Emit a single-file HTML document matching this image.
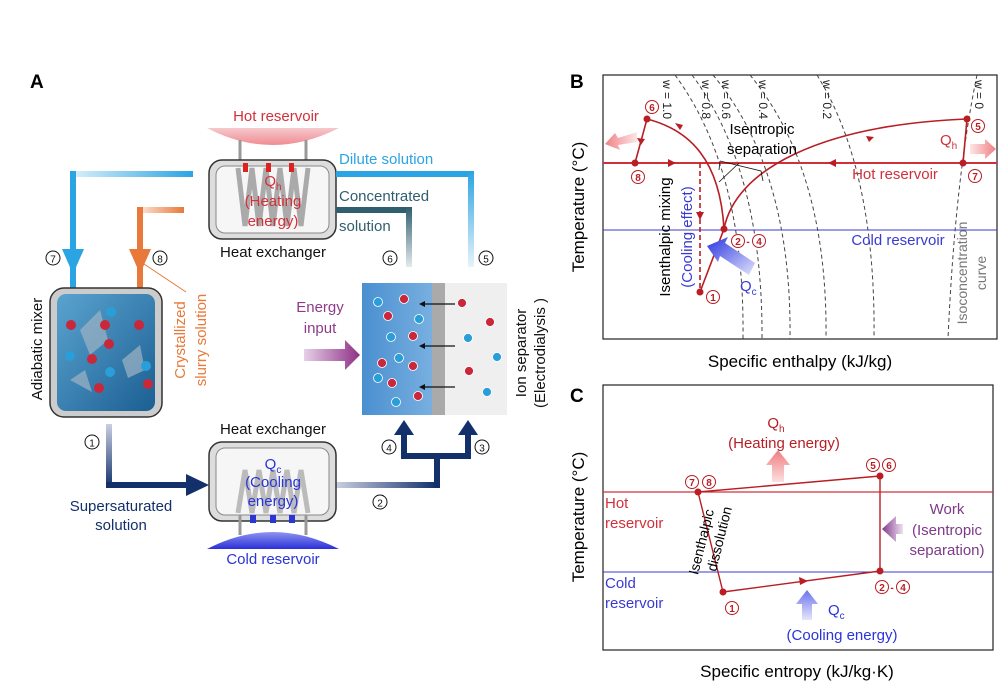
<!DOCTYPE html>
<html><head><meta charset="utf-8"><style>
html,body{margin:0;padding:0;background:#fff;}
svg{display:block;font-family:"Liberation Sans",sans-serif;}
</style></head><body>
<svg width="1000" height="700" viewBox="0 0 1000 700" xmlns="http://www.w3.org/2000/svg">
<defs>
<linearGradient id="pinkdome" x1="0" y1="0" x2="0" y2="1"><stop offset="0" stop-color="#f6c9cc"/><stop offset="1" stop-color="#f08b92"/></linearGradient>
<linearGradient id="bluedome" x1="0" y1="1" x2="0" y2="0"><stop offset="0" stop-color="#2a2fd8"/><stop offset="1" stop-color="#8f95f0"/></linearGradient>
<linearGradient id="water" x1="0" y1="0" x2="1" y2="1"><stop offset="0" stop-color="#5aa3cf"/><stop offset="1" stop-color="#1c5f93"/></linearGradient>
<linearGradient id="sepblue" x1="0" y1="0" x2="1" y2="0"><stop offset="0" stop-color="#4a8fd0"/><stop offset="1" stop-color="#79b0e0"/></linearGradient>
<linearGradient id="purp" x1="0" y1="0" x2="1" y2="0"><stop offset="0" stop-color="#e6d0e8"/><stop offset="1" stop-color="#8e2f86"/></linearGradient>
<linearGradient id="purpL" x1="1" y1="0" x2="0" y2="0"><stop offset="0" stop-color="#f0e0f0"/><stop offset="1" stop-color="#7d3a88"/></linearGradient>
<linearGradient id="fadeL" x1="0" y1="0" x2="1" y2="0"><stop offset="0" stop-color="#fff" stop-opacity="0"/><stop offset="1" stop-color="#fff"/></linearGradient>
<linearGradient id="pinkUp" x1="0" y1="1" x2="0" y2="0"><stop offset="0" stop-color="#fbe0e0"/><stop offset="1" stop-color="#f07c80"/></linearGradient>
<linearGradient id="blueUp" x1="0" y1="1" x2="0" y2="0"><stop offset="0" stop-color="#e4e6fb"/><stop offset="1" stop-color="#6b73ec"/></linearGradient>
<linearGradient id="blueDiag" x1="1" y1="1" x2="0" y2="0"><stop offset="0" stop-color="#e0e3fb"/><stop offset="1" stop-color="#2a34e0"/></linearGradient>
<linearGradient id="pinkL" x1="1" y1="0" x2="0" y2="0"><stop offset="0" stop-color="#fde6e6"/><stop offset="1" stop-color="#f08085"/></linearGradient>
<linearGradient id="pinkR" x1="0" y1="0" x2="1" y2="0"><stop offset="0" stop-color="#fde6e6"/><stop offset="1" stop-color="#f08085"/></linearGradient>
<linearGradient id="navyFade" x1="0" y1="0" x2="0" y2="1"><stop offset="0" stop-color="#c8cfe0"/><stop offset="1" stop-color="#13306a"/></linearGradient>
<linearGradient id="navyFadeH" x1="0" y1="0" x2="1" y2="0"><stop offset="0" stop-color="#c8cfe0"/><stop offset="1" stop-color="#13306a"/></linearGradient>
<linearGradient id="lbFade" x1="0" y1="0" x2="0" y2="1"><stop offset="0" stop-color="#2aa4e2"/><stop offset="1" stop-color="#e6f3fb"/></linearGradient>
<linearGradient id="dkFade" x1="0" y1="0" x2="0" y2="1"><stop offset="0" stop-color="#2f5e6e"/><stop offset="1" stop-color="#e3eaed"/></linearGradient>
<linearGradient id="lbFadeH" x1="1" y1="0" x2="0" y2="0"><stop offset="0" stop-color="#2aa4e2"/><stop offset="1" stop-color="#d8eefa"/></linearGradient>
<linearGradient id="orFadeH" x1="1" y1="0" x2="0" y2="0"><stop offset="0" stop-color="#e8793a"/><stop offset="1" stop-color="#fbe3d5"/></linearGradient>
</defs>

<!-- ========== Panel A ========== -->
<text x="30" y="88" font-size="19" font-weight="bold">A</text>

<!-- hot reservoir -->
<text x="276" y="121" font-size="15" fill="#d3303a" text-anchor="middle">Hot reservoir</text>
<path d="M207 128 Q272 162 339 128 Z" fill="url(#pinkdome)"/>
<!-- pipes from hot reservoir -->
<g stroke="#999" stroke-width="3"><line x1="240" y1="140" x2="240" y2="170"/><line x1="306" y1="140" x2="306" y2="170"/></g>

<!-- top heat exchanger -->
<rect x="209" y="160" width="127" height="79" rx="13" fill="#ddd" stroke="#333" stroke-width="1.5"/>
<rect x="216" y="166" width="113" height="67" rx="9" fill="#f6f6f6" stroke="#888" stroke-width="1"/>
<path d="M238 168 L245 226 L252 168 L259 226 L266 168 L273 226 L280 168 L287 226 L294 168 L301 226 L308 168" fill="none" stroke="#aaa" stroke-width="5"/>
<g fill="#d22"><rect x="243" y="163" width="5" height="9"/><rect x="266" y="163" width="5" height="9"/><rect x="289" y="163" width="5" height="9"/></g>
<text x="273" y="186" font-size="15" fill="#d3303a" text-anchor="middle">Q<tspan font-size="10" dy="4">h</tspan></text>
<text x="273" y="206" font-size="15" fill="#d3303a" text-anchor="middle">(Heating</text>
<text x="273" y="226" font-size="15" fill="#d3303a" text-anchor="middle">energy)</text>
<text x="273" y="257" font-size="15" fill="#111" text-anchor="middle">Heat exchanger</text>

<!-- dilute solution line -->
<text x="339" y="164" font-size="15" fill="#2aa4e2">Dilute solution</text>
<path d="M336 174 H471" stroke="#2aa4e2" stroke-width="6" fill="none"/>
<rect x="468" y="171" width="6" height="96" fill="url(#lbFade)"/>
<!-- concentrated -->
<text x="339" y="201" font-size="15" fill="#2f5e6e">Concentrated</text>
<text x="339" y="231" font-size="15" fill="#2f5e6e">solution</text>
<path d="M336 210 H409" stroke="#2f5e6e" stroke-width="6" fill="none"/>
<rect x="406" y="207" width="6" height="60" fill="url(#dkFade)"/>

<!-- left blue line -->
<rect x="73" y="171" width="120" height="6" fill="url(#lbFadeH)"/>
<rect x="70" y="171" width="6" height="117" fill="#2aa4e2"/>
<path d="M62 249 L84 249 L73 274 Z" fill="#2aa4e2"/>
<!-- orange line -->
<rect x="140" y="207" width="44" height="6" fill="url(#orFadeH)"/>
<rect x="137" y="207" width="6" height="81" fill="#e8793a"/>
<path d="M129 249 L151 249 L140 274 Z" fill="#e8793a"/>
<line x1="141" y1="262" x2="186" y2="292" stroke="#e8793a" stroke-width="1"/>

<!-- circled numbers -->
<g font-size="13" text-anchor="middle" fill="#111">
<circle cx="53" cy="258" r="7" fill="none" stroke="#111"/><text x="53" y="262.5" font-size="10">7</text>
<circle cx="160" cy="258" r="7" fill="none" stroke="#111"/><text x="160" y="262.5" font-size="10">8</text>
<circle cx="390" cy="258" r="7" fill="none" stroke="#111"/><text x="390" y="262.5" font-size="10">6</text>
<circle cx="486" cy="258" r="7" fill="none" stroke="#111"/><text x="486" y="262.5" font-size="10">5</text>
<circle cx="92" cy="442" r="7" fill="none" stroke="#111"/><text x="92" y="446.5" font-size="10">1</text>
<circle cx="389" cy="447" r="7" fill="none" stroke="#111"/><text x="389" y="451.5" font-size="10">4</text>
<circle cx="482" cy="447" r="7" fill="none" stroke="#111"/><text x="482" y="451.5" font-size="10">3</text>
<circle cx="380" cy="502" r="7" fill="none" stroke="#111"/><text x="380" y="506.5" font-size="10">2</text>
</g>

<!-- mixer -->
<rect x="50" y="288" width="112" height="129" rx="14" fill="#ccc" stroke="#333" stroke-width="1.5"/>
<rect x="57" y="294" width="98" height="117" rx="9" fill="url(#water)"/>
<g fill="#9fb4c4" opacity="0.7"><path d="M80 330 L100 310 L108 340 L90 355 Z"/><path d="M122 360 L140 345 L145 370 L128 378 Z"/><path d="M70 380 L85 370 L92 392 Z"/></g>
<g font-size="9" font-weight="bold" text-anchor="middle" fill="#fff">
<circle cx="71" cy="325" r="5" fill="#c8283a"/><circle cx="105" cy="325" r="5" fill="#c8283a"/><circle cx="139" cy="325" r="5" fill="#c8283a"/><circle cx="109" cy="344" r="5" fill="#c8283a"/><circle cx="92" cy="359" r="5" fill="#c8283a"/><circle cx="99" cy="388" r="5" fill="#c8283a"/><circle cx="148" cy="384" r="5" fill="#c8283a"/>
<circle cx="111" cy="312" r="5" fill="#2a9ed8"/><circle cx="70" cy="356" r="5" fill="#2a9ed8"/><circle cx="110" cy="372" r="5" fill="#2a9ed8"/><circle cx="146" cy="366" r="5" fill="#2a9ed8"/>
</g>
<text transform="translate(42,349) rotate(-90)" font-size="15" text-anchor="middle" fill="#111">Adiabatic mixer</text>
<text transform="translate(185,340) rotate(-90)" font-size="15" text-anchor="middle" fill="#e8793a">Crystallized</text>
<text transform="translate(206,340) rotate(-90)" font-size="15" text-anchor="middle" fill="#e8793a">slurry solution</text>

<!-- energy input -->
<text x="320" y="312" font-size="15" fill="#8e3b8a" text-anchor="middle">Energy</text>
<text x="320" y="333" font-size="15" fill="#8e3b8a" text-anchor="middle">input</text>
<path d="M304 349 H345 V340 L360 355 L345 370 V361 H304 Z" fill="url(#purp)"/>

<!-- separator -->
<rect x="362" y="283" width="72" height="132" fill="url(#sepblue)"/>
<rect x="432" y="283" width="13" height="132" fill="#aaa"/>
<rect x="445" y="283" width="62" height="132" fill="#efefef"/>
<g stroke="#111" stroke-width="1.2">
<line x1="455" y1="304" x2="423" y2="304"/><line x1="455" y1="346" x2="423" y2="346"/><line x1="455" y1="387" x2="423" y2="387"/>
</g>
<g fill="#111"><path d="M419 304 l6 -3 v6z"/><path d="M419 346 l6 -3 v6z"/><path d="M419 387 l6 -3 v6z"/></g>
<g fill="#c8283a" stroke="#fff" stroke-width="0.8">
<circle cx="404" cy="299" r="4.5"/><circle cx="388" cy="316" r="4.5"/><circle cx="413" cy="336" r="4.5"/><circle cx="382" cy="363" r="4.5"/><circle cx="413" cy="366" r="4.5"/><circle cx="392" cy="383" r="4.5"/><circle cx="418" cy="396" r="4.5"/><circle cx="462" cy="303" r="4.5"/><circle cx="490" cy="322" r="4.5"/><circle cx="469" cy="371" r="4.5"/>
</g>
<g fill="#2a9ed8" stroke="#fff" stroke-width="0.8">
<circle cx="378" cy="302" r="4.5"/><circle cx="419" cy="319" r="4.5"/><circle cx="391" cy="337" r="4.5"/><circle cx="399" cy="358" r="4.5"/><circle cx="378" cy="378" r="4.5"/><circle cx="396" cy="402" r="4.5"/><circle cx="468" cy="338" r="4.5"/><circle cx="497" cy="357" r="4.5"/><circle cx="487" cy="392" r="4.5"/>
</g>
<text transform="translate(526,353) rotate(-90)" font-size="15" text-anchor="middle" fill="#111">Ion separator</text>
<text transform="translate(545,353) rotate(-90)" font-size="15" text-anchor="middle" fill="#111">(Electrodialysis )</text>

<!-- bottom navy lines -->
<rect x="106" y="424" width="6" height="64" fill="url(#navyFade)"/>
<rect x="106" y="482" width="84" height="6" fill="#13306a"/>
<path d="M186 474 L209 485 L186 496 Z" fill="#13306a"/>
<text x="121" y="511" font-size="15" fill="#13306a" text-anchor="middle">Supersaturated</text>
<text x="121" y="530" font-size="15" fill="#13306a" text-anchor="middle">solution</text>
<rect x="336" y="482" width="101" height="6" fill="url(#navyFadeH)"/>
<rect x="434" y="456" width="6" height="32" fill="#13306a"/>
<rect x="401" y="453" width="70" height="6" fill="#13306a"/>
<rect x="401" y="433" width="6" height="25" fill="#13306a"/>
<rect x="465" y="433" width="6" height="25" fill="#13306a"/>
<path d="M394 435 L404 420 L414 435 Z" fill="#13306a"/>
<path d="M458 435 L468 420 L478 435 Z" fill="#13306a"/>

<!-- bottom heat exchanger -->
<text x="273" y="434" font-size="15" fill="#111" text-anchor="middle">Heat exchanger</text>
<rect x="209" y="442" width="127" height="79" rx="13" fill="#ddd" stroke="#333" stroke-width="1.5"/>
<rect x="216" y="448" width="113" height="67" rx="9" fill="#f6f6f6" stroke="#888" stroke-width="1"/>
<path d="M238 513 L245 470 L252 513 L259 470 L266 513 L273 470 L280 513 L287 470 L294 513 L301 470 L308 513" fill="none" stroke="#bbb" stroke-width="5"/>
<g stroke="#999" stroke-width="3"><line x1="240" y1="515" x2="240" y2="535"/><line x1="306" y1="515" x2="306" y2="535"/></g>
<g fill="#2a34d8"><rect x="250" y="515" width="6" height="8"/><rect x="270" y="515" width="6" height="8"/><rect x="289" y="515" width="6" height="8"/></g>
<text x="273" y="469" font-size="15" fill="#2a34d8" text-anchor="middle">Q<tspan font-size="10" dy="4">c</tspan></text>
<text x="273" y="487" font-size="15" fill="#2a34d8" text-anchor="middle">(Cooling</text>
<text x="273" y="506" font-size="15" fill="#2a34d8" text-anchor="middle">energy)</text>
<path d="M207 549 Q272 515 339 549 Z" fill="url(#bluedome)"/>
<text x="273" y="564" font-size="15" fill="#2a34d8" text-anchor="middle">Cold reservoir</text>

<!-- ========== Panel B ========== -->
<text x="570" y="88" font-size="19" font-weight="bold">B</text>
<rect x="603" y="75" width="394" height="264" fill="none" stroke="#222" stroke-width="1.2"/>
<text transform="translate(584,207) rotate(-90)" font-size="17" text-anchor="middle">Temperature (°C)</text>
<text x="800" y="367" font-size="17" text-anchor="middle">Specific enthalpy (kJ/kg)</text>

<g fill="none" stroke="#444" stroke-width="1" stroke-dasharray="4,3">
<path d="M675 75 Q745 170 743 339"/>
<path d="M692 75 Q763 170 762 339"/>
<path d="M713 75 Q792 170 790 339"/>
<path d="M750 75 Q828 170 826 339"/>
<path d="M817 75 Q876 170 874 339"/>
<path d="M977 75 Q955 180 948 339"/>
</g>
<g font-size="12" fill="#222">
<text transform="translate(663,80) rotate(90)">w = 1.0</text>
<text transform="translate(702,80) rotate(90)">w = 0.8</text>
<text transform="translate(722,80) rotate(90)">w = 0.6</text>
<text transform="translate(759,80) rotate(90)">w = 0.4</text>
<text transform="translate(823,80) rotate(90)">w = 0.2</text>
<text transform="translate(975,80) rotate(90)">w = 0</text>
</g>
<text transform="translate(967,273) rotate(-90)" font-size="14" text-anchor="middle" fill="#777">Isoconcentration</text>
<text transform="translate(986,273) rotate(-90)" font-size="14" text-anchor="middle" fill="#777">curve</text>

<line x1="603" y1="163" x2="997" y2="163" stroke="#d0303a" stroke-width="2"/>
<line x1="603" y1="230" x2="997" y2="230" stroke="#3a3ad0" stroke-width="0.9"/>

<!-- cycle -->
<g fill="none" stroke="#b81e24" stroke-width="1.6">
<path d="M647 119 C690 130 720 160 724 229"/>
<path d="M724 229 C735 170 820 125 967 119"/>
<line x1="724" y1="229" x2="700" y2="292"/>
<line x1="647" y1="119" x2="635" y2="163"/>
<line x1="967" y1="119" x2="963" y2="163"/>
<line x1="700" y1="163" x2="700" y2="292" stroke-dasharray="5,3"/>
</g>
<g fill="#b81e24">
<path d="M676 163 l-8 -4 v8z"/><path d="M828 163 l8 -4 v8z"/>
<path d="M700 220 l-4 -8 h8z"/>
<path d="M641 145 l-4 -7 l8 1z"/>
<path d="M683 125 l-8 -2 l5 7z"/>
<path d="M874 137 l-8 -1 l3 6z"/>
<circle cx="647" cy="119" r="3.5"/><circle cx="635" cy="163" r="3.5"/><circle cx="700" cy="292" r="3.5"/><circle cx="724" cy="229" r="3.5"/><circle cx="967" cy="119" r="3.5"/><circle cx="963" cy="163" r="3.5"/>
</g>
<g font-size="10" text-anchor="middle" fill="#b81e24" font-weight="bold">
<circle cx="652" cy="107" r="6.5" fill="#fff" stroke="#b81e24"/><text x="652" y="111">6</text>
<circle cx="638" cy="177" r="6.5" fill="#fff" stroke="#b81e24"/><text x="638" y="181">8</text>
<circle cx="713" cy="297" r="6.5" fill="#fff" stroke="#b81e24"/><text x="713" y="301">1</text>
<circle cx="738" cy="241" r="6.5" fill="#fff" stroke="#b81e24"/><text x="738" y="245">2</text>
<text x="748" y="245">-</text>
<circle cx="759" cy="241" r="6.5" fill="#fff" stroke="#b81e24"/><text x="759" y="245">4</text>
<circle cx="978" cy="126" r="6.5" fill="#fff" stroke="#b81e24"/><text x="978" y="130">5</text>
<circle cx="975" cy="176" r="6.5" fill="#fff" stroke="#b81e24"/><text x="975" y="180">7</text>
</g>
<text x="762" y="134" font-size="15" text-anchor="middle">Isentropic</text>
<text x="762" y="154" font-size="15" text-anchor="middle">separation</text>
<g stroke="#111" stroke-width="0.8" fill="none"><path d="M720 161 L761 171 L763 181"/><path d="M720 161 L719 170"/></g>
<line x1="739" y1="163" x2="719" y2="182" stroke="#111" stroke-width="0.8"/>
<text x="940" y="145" font-size="15" fill="#d0303a">Q<tspan font-size="10" dy="4">h</tspan></text>
<text x="895" y="179" font-size="15" fill="#d0303a" text-anchor="middle">Hot reservoir</text>
<text x="898" y="245" font-size="15" fill="#3a3ad0" text-anchor="middle">Cold reservoir</text>
<text transform="translate(670,237) rotate(-90)" font-size="15" text-anchor="middle">Isenthalpic mixing</text>
<text transform="translate(692,237) rotate(-90)" font-size="15" text-anchor="middle" fill="#3a3ad0">(Cooling effect)</text>
<text x="740" y="291" font-size="15" fill="#3a3ad0">Q<tspan font-size="10" dy="4">c</tspan></text>
<path d="M755 263 L725 243 L728 237 L707 246 L718 262 L720 256 L749 275 Z" fill="url(#blueDiag)"/>
<path d="M637 132 L618 138 L615 133 L605 144 L620 150 L618 145 L637 142 Z" fill="url(#pinkL)"/>
<path d="M970 144 L985 144 L985 139 L996 149 L985 159 L985 154 L970 154 Z" fill="url(#pinkR)"/>

<!-- ========== Panel C ========== -->
<text x="570" y="402" font-size="19" font-weight="bold">C</text>
<rect x="603" y="385" width="390" height="265" fill="none" stroke="#222" stroke-width="1.2"/>
<text transform="translate(584,517) rotate(-90)" font-size="17" text-anchor="middle">Temperature (°C)</text>
<text x="797" y="677" font-size="17" text-anchor="middle">Specific entropy (kJ/kg·K)</text>
<line x1="603" y1="492" x2="993" y2="492" stroke="#d0303a" stroke-width="1.3"/>
<line x1="603" y1="572" x2="993" y2="572" stroke="#3a3ad0" stroke-width="0.9"/>
<g fill="none" stroke="#b81e24" stroke-width="1.4">
<line x1="698" y1="492" x2="880" y2="476"/>
<line x1="880" y1="476" x2="880" y2="571"/>
<line x1="880" y1="571" x2="723" y2="592"/>
<line x1="723" y1="592" x2="698" y2="492"/>
</g>
<g fill="#b81e24">
<path d="M808 581 l-9 -4 l1 8z"/>
<circle cx="698" cy="492" r="3.5"/><circle cx="880" cy="476" r="3.5"/><circle cx="880" cy="571" r="3.5"/><circle cx="723" cy="592" r="3.5"/>
</g>
<g font-size="10" text-anchor="middle" fill="#b81e24" font-weight="bold">
<circle cx="692" cy="482" r="6.5" fill="#fff" stroke="#b81e24"/><text x="692" y="486">7</text>
<circle cx="709" cy="482" r="6.5" fill="#fff" stroke="#b81e24"/><text x="709" y="486">8</text>
<circle cx="873" cy="465" r="6.5" fill="#fff" stroke="#b81e24"/><text x="873" y="469">5</text>
<circle cx="889" cy="465" r="6.5" fill="#fff" stroke="#b81e24"/><text x="889" y="469">6</text>
<circle cx="882" cy="587" r="6.5" fill="#fff" stroke="#b81e24"/><text x="882" y="591">2</text>
<text x="892" y="591">-</text>
<circle cx="903" cy="587" r="6.5" fill="#fff" stroke="#b81e24"/><text x="903" y="591">4</text>
<circle cx="732" cy="608" r="6.5" fill="#fff" stroke="#b81e24"/><text x="732" y="612">1</text>
</g>
<text x="776" y="428" font-size="15" fill="#b81e24" text-anchor="middle">Q<tspan font-size="10" dy="4">h</tspan></text>
<text x="784" y="448" font-size="15" fill="#b81e24" text-anchor="middle">(Heating energy)</text>
<path d="M772 482 V465 H766 L778 450 L790 465 H784 V482 Z" fill="url(#pinkUp)"/>
<text x="605" y="508" font-size="15" fill="#d0303a">Hot</text>
<text x="605" y="528" font-size="15" fill="#d0303a">reservoir</text>
<text x="605" y="588" font-size="15" fill="#3a3ad0">Cold</text>
<text x="605" y="608" font-size="15" fill="#3a3ad0">reservoir</text>
<text transform="translate(706,543) rotate(-76)" font-size="14" text-anchor="middle">Isenthalpic</text>
<text transform="translate(724,540) rotate(-76)" font-size="14" text-anchor="middle">dissolution</text>
<text x="947" y="514" font-size="15" fill="#7d3a88" text-anchor="middle">Work</text>
<text x="947" y="535" font-size="15" fill="#7d3a88" text-anchor="middle">(Isentropic</text>
<text x="947" y="555" font-size="15" fill="#7d3a88" text-anchor="middle">separation)</text>
<path d="M903 524 H896 V516 L882 529 L896 542 V534 H903 Z" fill="url(#purpL)"/>
<text x="828" y="615" font-size="15" fill="#2a34d8">Q<tspan font-size="10" dy="4">c</tspan></text>
<text x="842" y="640" font-size="15" fill="#2a34d8" text-anchor="middle">(Cooling energy)</text>
<path d="M802 620 V604 H796 L807 590 L818 604 H812 V620 Z" fill="url(#blueUp)"/>
</svg>
</body></html>
